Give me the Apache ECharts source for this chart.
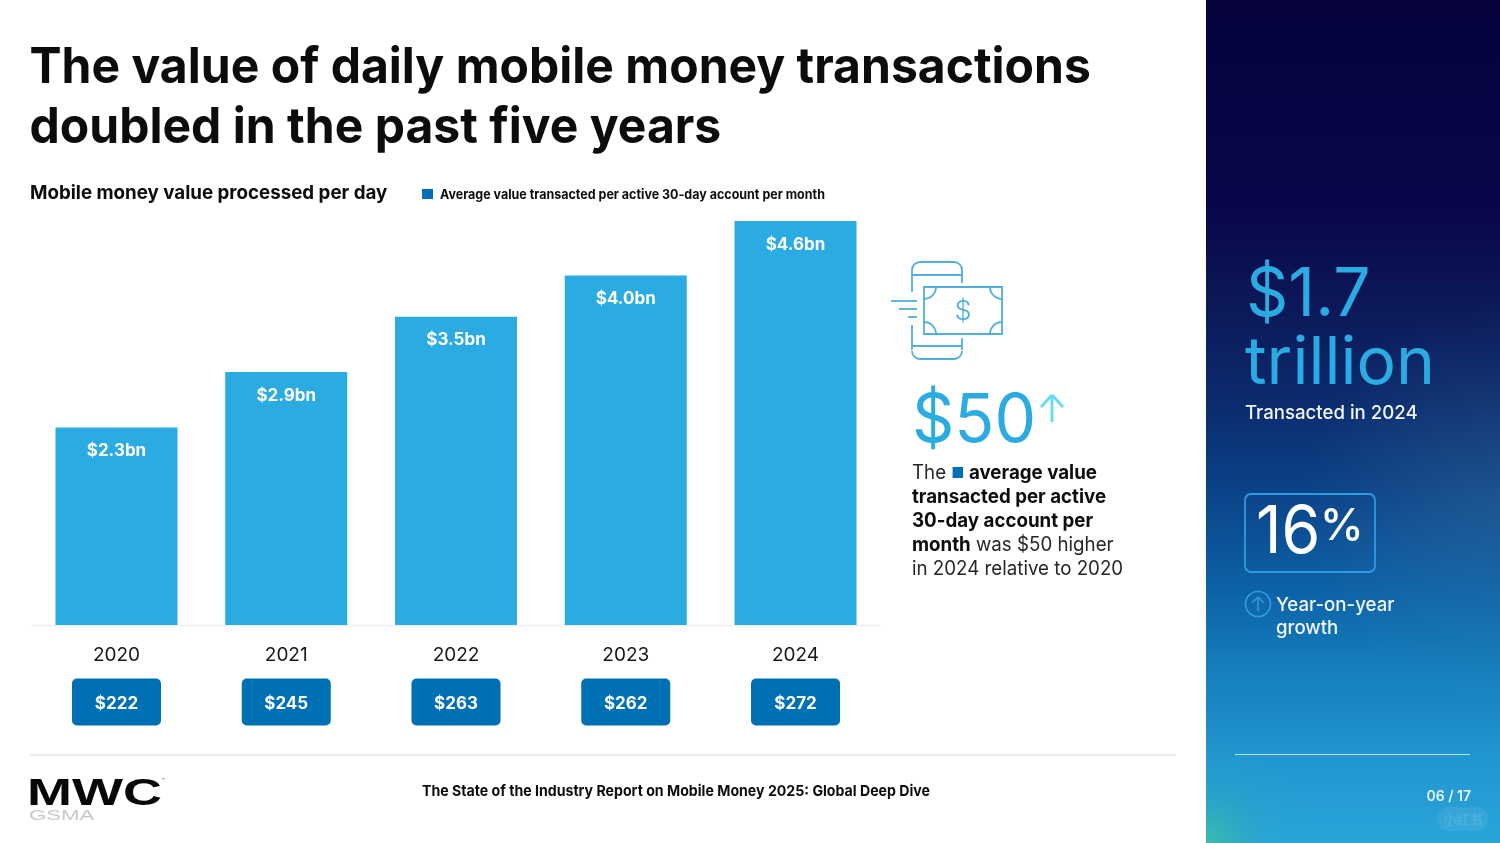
<!DOCTYPE html>
<html><head><meta charset="utf-8">
<style>html,body{margin:0;padding:0;background:#fff}#c{width:1500px;height:843px}</style>
<script src="https://cdn.jsdelivr.net/npm/echarts@6/dist/echarts.min.js"></script></head>
<body><div id="c"></div>
<script>
const years = ['2020','2021','2022','2023','2024'];
const dailyValueBn = [2.25,2.88,3.51,3.98,4.6];
const dailyLabels = ['$2.3bn','$2.9bn','$3.5bn','$4.0bn','$4.6bn'];
const avgPerAccount = ['$222','$245','$263','$262','$272'];
const F = 'Inter';
const SKY = '#2aabe2', DEEP = '#0070b4', INK = '#0c0c0f', LINEBLUE = '#4fb0de';

const chart = echarts.init(document.getElementById('c'), null, {renderer:'canvas', width:1500, height:843});
const t = (x,y,text,size,weight,fill,extra,sx) => ({type:'text',x,y,scaleX:sx||1,silent:true,style:Object.assign({text,fontFamily:F,fontSize:size,fontWeight:weight,fill,verticalAlign:'middle',align:'left'},extra||{})});
const ln = (x1,y1,x2,y2,stroke,w) => ({type:'line',silent:true,shape:{x1,y1,x2,y2},style:{stroke,lineWidth:w||1.8}});
const arc = (cx,cy,r,s,e) => ({type:'arc',silent:true,shape:{cx,cy,r,startAngle:s*Math.PI,endAngle:e*Math.PI,clockwise:true},style:{stroke:LINEBLUE,lineWidth:1.8,fill:'none'}});

const graphics = [
 {type:'rect',silent:true,shape:{x:1206,y:0,width:294,height:843},style:{fill:new echarts.graphic.LinearGradient(0,0,0,1,[
   {offset:0,color:'#05023c'},{offset:.25,color:'#08074a'},{offset:.36,color:'#0c1858'},{offset:.47,color:'#0b2a6c'},{offset:.57,color:'#0b3f84'},{offset:.7,color:'#0d62a6'},{offset:.8,color:'#1580bd'},{offset:.9,color:'#2296cf'},{offset:1,color:'#29a5da'}])}},
 {type:'rect',silent:true,shape:{x:1206,y:300,width:294,height:400},style:{fill:new echarts.graphic.RadialGradient(1,.5,.68,[
   {offset:0,color:'rgba(90,140,170,.22)'},{offset:1,color:'rgba(90,140,170,0)'}])}},
 {type:'rect',silent:true,shape:{x:1206,y:643,width:120,height:200},style:{fill:new echarts.graphic.RadialGradient(0,1,.9,[
   {offset:0,color:'rgba(60,190,170,.95)'},{offset:.5,color:'rgba(50,170,180,.25)'},{offset:1,color:'rgba(40,160,210,0)'}])}},
 t(29.5,68,'The value of daily mobile money transactions',50,700,INK,null,.961),
 t(29.5,128,'doubled in the past five years',50,700,INK,null,.961),
 t(30,193,'Mobile money value processed per day',19,700,INK,null,.986),
 {type:'rect',silent:true,shape:{x:422,y:189,width:11,height:10},style:{fill:DEEP}},
 t(440,195,'Average value transacted per active 30-day account per month',13,700,INK,null,.96),

 // phone-and-cash icon
 {type:'rect',silent:true,shape:{x:924,y:287,width:78,height:47},style:{fill:'none',stroke:LINEBLUE,lineWidth:1.8}},
 ln(912,270,912,292,LINEBLUE), ln(962,270,962,283,LINEBLUE),
 ln(912,325,912,350,LINEBLUE), ln(962,338,962,350,LINEBLUE),
 ln(920,262,954,262,LINEBLUE), ln(920,359,954,359,LINEBLUE),
 ln(912,275,962,275,LINEBLUE), ln(912,346,962,346,LINEBLUE),
 arc(920,270,8,1,1.5), arc(954,270,8,1.5,2), arc(920,351,8,.5,1), arc(954,351,8,0,.5),
 arc(924,287,12,0,.5), arc(1002,287,12,.5,1), arc(924,334,12,1.5,2), arc(1002,334,12,1,1.5),
 ln(891,301,917,301,LINEBLUE), ln(899,309,917,309,LINEBLUE), ln(908,317,917,317,LINEBLUE),
 t(963,312,'$',27,300,LINEBLUE,{align:'center'}),

 t(912,422,'$50',67,400,SKY,null,.985),
 ln(1052,422,1052,396,'#62dcf5',2.8), ln(1041,407,1052,395,'#62dcf5',2.8), ln(1063,407,1052,395,'#62dcf5',2.8),
 {type:'text',x:912,y:461,scaleX:.96,silent:true,style:{
   text:'{r|The }{s|■}{b| average value}\n{b|transacted per active}\n{b|30-day account per}\n{b|month}{r| was $50 higher}\n{r|in 2024 relative to 2020}',
   fontFamily:F,fontSize:19.5,lineHeight:24,fill:'#222',verticalAlign:'top',
   rich:{r:{fontFamily:F,fontSize:19.5,lineHeight:24,fill:'#26262a'},b:{fontFamily:F,fontSize:19.5,fontWeight:700,lineHeight:24,fill:INK},s:{fontFamily:F,fontSize:15,lineHeight:24,fill:DEEP}}}},

 // footer
 ln(30,755,1176,755,'#d6d6d6',1.2),
 ln(31,625.5,881,625.5,'#eeeeee',1.5),
 {type:'text',x:27,y:795,scaleX:1.46,silent:true,style:{text:'MWC',fontFamily:'Liberation Sans',fontSize:37,fontWeight:700,fill:'#08080a',verticalAlign:'middle'}},
 {type:'text',x:29,y:816,scaleX:1.53,silent:true,style:{text:'GSMA',fontFamily:'Liberation Sans',fontSize:14.5,fill:'#c8c8c8',verticalAlign:'middle'}},
 t(162,780,'™',5,400,'#555'),
 t(422,791,'The State of the Industry Report on Mobile Money 2025: Global Deep Dive',15,700,INK,null,.943),

 // right panel
 t(1246,296,'$1.7',68,400,SKY,null,.97),
 t(1245,364,'trillion',66,400,SKY),
 t(1245,413,'Transacted in 2024',19,500,'#f2f6fa',null,.98),
 {type:'rect',silent:true,shape:{x:1245,y:494,width:130,height:78,r:6},style:{fill:'none',stroke:'#2f9be0',lineWidth:1.8}},
 t(1256,533,'16',66,400,'#ffffff',null,.95),
 t(1320,527,'%',44,500,'#ffffff'),
 {type:'circle',silent:true,shape:{cx:1258,cy:604,r:12.5},style:{fill:'none',stroke:'#2f9be0',lineWidth:1.6}},
 ln(1258,611,1258,597,'#2f9be0',1.6), ln(1252,603,1258,597,'#2f9be0',1.6), ln(1264,603,1258,597,'#2f9be0',1.6),
 t(1276,605,'Year-on-year',19,500,'#f2f6fa',null,.98),
 t(1276,628,'growth',19,500,'#f2f6fa',null,.98),
 ln(1235,754.5,1470,754.5,'#b8e4f2',1.2),
 t(1471,797,'06 / 17',14,600,'#e8f4fa',{align:'right'}),
 {type:'rect',silent:true,shape:{x:1437,y:807,width:51,height:24,r:12},style:{fill:'rgba(255,255,255,.07)'}},
 t(1463,819,'小红书',13,700,'rgba(255,255,255,.1)',{align:'center',fontFamily:'Noto Sans CJK SC'})
];

chart.setOption({
 animation:false,
 grid:{left:31.6,top:221,width:848.8,height:404},
 xAxis:[
  {type:'category',data:years,position:'bottom',axisTick:{show:false},axisLine:{show:false},
   axisLabel:{margin:21,fontFamily:F,fontSize:19,color:'#17171a'}},
  {type:'category',data:avgPerAccount,position:'bottom',offset:55,axisTick:{show:false},axisLine:{show:false},
   axisLabel:{margin:0,formatter:v=>'{b|'+v+'}',rich:{b:{width:89,height:44,lineHeight:44,padding:[3,0,0,0],align:'center',verticalAlign:'middle',backgroundColor:DEEP,borderRadius:5,color:'#fff',fontFamily:F,fontSize:17,fontWeight:700}}}}
 ],
 yAxis:{type:'value',min:0,max:4.6,show:false,splitLine:{show:false}},
 series:[{type:'bar',data:dailyValueBn,barWidth:122,itemStyle:{color:SKY},
  label:{show:true,position:'insideTop',distance:15,color:'#fff',fontFamily:F,fontSize:17,fontWeight:700,formatter:p=>dailyLabels[p.dataIndex]}}],
 graphic:{elements:graphics}
});
</script></body></html>
